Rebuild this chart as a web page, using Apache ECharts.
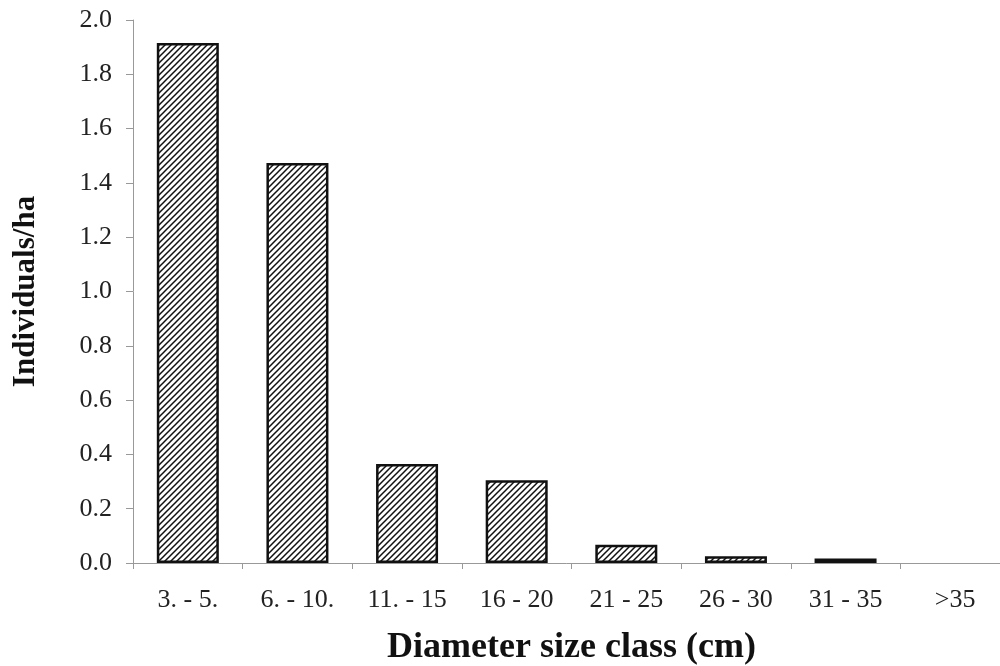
<!DOCTYPE html>
<html><head><meta charset="utf-8">
<script src="https://cdn.jsdelivr.net/npm/echarts@6/dist/echarts.min.js"></script>
<style>html,body{margin:0;padding:0;background:#fff}#c{width:1000px;height:666px}</style>
</head><body><div id="c"></div>
<script>
const categories = ['3. - 5.', '6. - 10.', '11. - 15', '16 - 20', '21 - 25', '26 - 30', '31 - 35', '>35'];
const values = [1.915, 1.473, 0.365, 0.305, 0.067, 0.025, 0.017, 0];
const yTicks = [0, 0.2, 0.4, 0.6, 0.8, 1.0, 1.2, 1.4, 1.6, 1.8, 2.0];

function hatch() {
  const s = 6;
  const c = document.createElement('canvas');
  c.width = s; c.height = s;
  const g = c.getContext('2d');
  g.fillStyle = '#fff'; g.fillRect(0, 0, s, s);
  g.strokeStyle = '#111'; g.lineWidth = 1.5;
  g.beginPath();
  g.moveTo(-1, s + 1); g.lineTo(s + 1, -1);
  g.moveTo(-1, 1); g.lineTo(1, -1);
  g.moveTo(s - 1, s + 1); g.lineTo(s + 1, s - 1);
  g.stroke();
  return c;
}

const chart = echarts.init(document.getElementById('c'), null, {renderer: 'canvas'});
const font = '"Liberation Serif", "Times New Roman", serif';
chart.setOption({
  animation: false,
  grid: {left: 133, right: -10, top: 20, bottom: 103, containLabel: false, outerBoundsMode: 'none'},
  xAxis: {
    type: 'category', data: categories,
    axisLine: {lineStyle: {color: '#999', width: 1}},
    axisTick: {show: true, length: 6, lineStyle: {color: '#999'}},
    axisLabel: {fontFamily: font, fontSize: 26, color: '#222', margin: 24},
    name: 'Diameter size class (cm)', nameLocation: 'middle', nameGap: 67,
    nameTextStyle: {fontFamily: font, fontSize: 36, fontWeight: 'bold', color: '#111'}
  },
  yAxis: {
    type: 'value', min: 0, max: 2, interval: 0.2,
    splitLine: {show: false},
    axisLine: {show: true, lineStyle: {color: '#999', width: 1}},
    axisTick: {show: true, length: 7, lineStyle: {color: '#999'}},
    axisLabel: {fontFamily: font, fontSize: 26, color: '#222', margin: 21,
      formatter: v => { const t = yTicks.find(x => Math.abs(x - v) < 1e-6); return (t === undefined ? v : t).toFixed(1); }},
    name: 'Individuals/ha', nameLocation: 'middle', nameGap: 92, nameRotate: 90,
    nameTextStyle: {fontFamily: font, fontSize: 31, fontWeight: 'bold', color: '#111'}
  },
  series: [{
    type: 'bar', barWidth: 62,
    data: values.map(v => v === 0 ? {value: v, itemStyle: {borderWidth: 0}} : v),
    itemStyle: {color: {image: hatch(), repeat: 'repeat'}, borderColor: '#111', borderWidth: 2.5}
  }]
});
</script></body></html>
